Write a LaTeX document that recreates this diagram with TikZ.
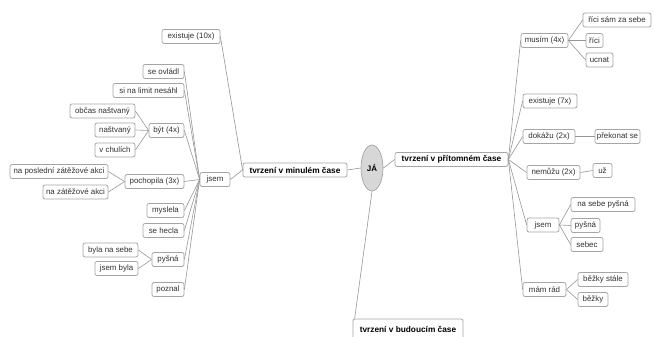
\documentclass[tikz,border=0pt]{standalone}
\usepackage{fontspec}
\setmainfont{Liberation Sans}
\usetikzlibrary{shapes.geometric}
\definecolor{boxgray}{RGB}{165,165,165}
\definecolor{linegray}{RGB}{150,150,150}
\definecolor{ellfill}{RGB}{215,215,215}
\definecolor{txt}{RGB}{50,50,50}
\begin{document}
\begin{tikzpicture}[x=1pt,y=-1pt,
  box/.style={draw=boxgray, line width=0.75pt, rounded corners=2pt, fill=white,
    minimum height=14pt, inner sep=1.2pt, font=\fontsize{7.9}{9}\selectfont, text=txt},
  mainbox/.style={box, text=black, font=\fontsize{8.3}{9}\selectfont\bfseries},
  link/.style={draw=linegray, line width=0.6pt}]
\useasboundingbox (0,0) rectangle (653,337);
\begin{scope}
\clip (0,0) rectangle (653,337);
% center
\node[ellipse, draw=boxgray, fill=ellfill, line width=0.7pt, minimum width=22pt, minimum height=46pt, inner sep=0pt, font=\fontsize{8}{9}\selectfont\bfseries] (ja) at (372,168) {JÁ};
\node[mainbox, minimum width=104pt] (minule) at (295,170) {tvrzení v minulém čase};
\node[mainbox, minimum width=113pt] (pritom) at (451.5,159.5) {tvrzení v přítomném čase};
\node[mainbox, minimum width=110pt, minimum height=20pt] (budouci) at (408,329) {tvrzení v budoucím čase};
% left
\node[box, minimum width=58pt] (exist10) at (191,36.5) {existuje (10x)};
\node[box, minimum width=30pt] (jsemL) at (215,179.5) {jsem};
\node[box, minimum width=41pt] (seovladl) at (163.5,71.5) {se ovládl};
\node[box, minimum width=71pt] (silimit) at (148.5,90.5) {si na limit nesáhl};
\node[box, minimum width=35pt] (byt) at (166.5,130.5) {být (4x)};
\node[box, minimum width=65pt] (obcas) at (102.5,111) {občas naštvaný};
\node[box, minimum width=40pt] (nastvany) at (115,130) {naštvaný};
\node[box, minimum width=40pt] (vchulich) at (115,150) {v chulích};
\node[box, minimum width=59pt] (pochopila) at (154.5,181.5) {pochopila (3x)};
\node[box, minimum width=98pt] (naposledni) at (59,171.5) {na poslední zátěžové akci};
\node[box, minimum width=65pt] (nazatez) at (75.5,192) {na zátěžové akci};
\node[box, minimum width=37pt] (myslela) at (165.5,210.5) {myslela};
\node[box, minimum width=41pt] (sehecla) at (163.5,230.5) {se hecla};
\node[box, minimum width=32pt] (pysnaL) at (168,259.5) {pyšná};
\node[box, minimum width=55pt] (bylanasebe) at (110.5,250) {byla na sebe};
\node[box, minimum width=43pt] (jsembyla) at (116.5,268.5) {jsem byla};
\node[box, minimum width=32pt] (poznal) at (168,289.5) {poznal};
% right
\node[box, minimum width=47pt] (musim) at (544.5,40.5) {musím (4x)};
\node[box, minimum width=68pt] (ricisam) at (617,20) {říci sám za sebe};
\node[box, minimum width=17pt] (rici) at (594.5,40.5) {říci};
\node[box, minimum width=27pt] (ucnat) at (599.5,60) {ucnat};
\node[box, minimum width=54pt] (exist7) at (550,101) {existuje (7x)};
\node[box, minimum width=52pt] (dokazu) at (549,136.5) {dokážu (2x)};
\node[box, minimum width=45pt] (prekonat) at (617.5,136.5) {překonat se};
\node[box, minimum width=53pt] (nemuzu) at (553.5,172.5) {nemůžu (2x)};
\node[box, minimum width=19pt] (uz) at (602.5,170.5) {už};
\node[box, minimum width=32pt] (jsemR) at (543,225) {jsem};
\node[box, minimum width=64pt] (nasebe) at (603,204.5) {na sebe pyšná};
\node[box, minimum width=29pt] (pysnaR) at (585.5,225.5) {pyšná};
\node[box, minimum width=32pt] (sebec) at (587,244.5) {sebec};
\node[box, minimum width=43pt] (mamrad) at (544.5,289.5) {mám rád};
\node[box, minimum width=50pt] (bezkystale) at (603,279.5) {běžky stále};
\node[box, minimum width=30pt] (bezky) at (593,299.5) {běžky};
% connectors center
\draw[link] (ja.west) -- (minule.east);
\draw[link] (ja.east) -- (pritom.west);
\draw[link] (ja.south) -- ([xshift=2pt]budouci.north west);
% left connectors
\draw[link] (exist10.east) -- (minule.west);
\draw[link] (jsemL.east) -- (minule.west);
\foreach \c in {seovladl,silimit,byt,pochopila,myslela,sehecla,pysnaL,poznal}
  \draw[link] (\c.east) -- (jsemL.west);
\foreach \c in {obcas,nastvany,vchulich}
  \draw[link] (\c.east) -- (byt.west);
\foreach \c in {naposledni,nazatez}
  \draw[link] (\c.east) -- (pochopila.west);
\foreach \c in {bylanasebe,jsembyla}
  \draw[link] (\c.east) -- (pysnaL.west);
% right connectors
\foreach \c in {musim,exist7,dokazu,nemuzu,jsemR,mamrad}
  \draw[link] (pritom.east) -- (\c.west);
\foreach \c in {ricisam,rici,ucnat}
  \draw[link] (musim.east) -- (\c.west);
\draw[link] (dokazu.east) -- (prekonat.west);
\draw[link] (nemuzu.east) -- (uz.west);
\foreach \c in {nasebe,pysnaR,sebec}
  \draw[link] (jsemR.east) -- (\c.west);
\foreach \c in {bezkystale,bezky}
  \draw[link] (mamrad.east) -- (\c.west);
\end{scope}
\end{tikzpicture}
\end{document}
